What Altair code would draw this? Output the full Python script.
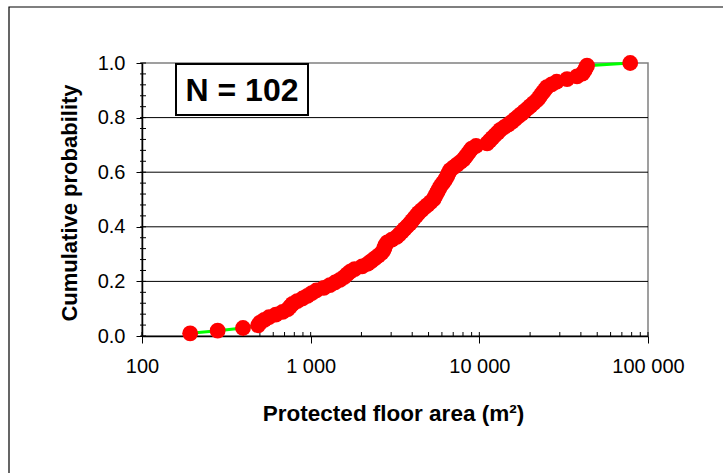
import altair as alt
import pandas as pd

# Protected floor area of each building in the sample (m²), sorted
areas = [193, 281, 397, 488, 501, 531, 566, 621, 682, 732,
         755, 781, 832, 895, 956, 1015, 1080, 1196, 1300, 1394,
         1490, 1578, 1642, 1713, 1822, 2018, 2181, 2288, 2400, 2518,
         2630, 2703, 2740, 2773, 2846, 3030, 3232, 3358, 3479, 3605,
         3736, 3870, 3988, 4105, 4230, 4365, 4548, 4732, 4937, 5142,
         5343, 5446, 5551, 5658, 5768, 5888, 6050, 6218, 6356, 6469,
         6585, 6713, 7031, 7376, 7726, 8069, 8292, 8522, 8759, 9002,
         9560, 11124, 11527, 11945, 12375, 12840, 13300, 14030, 14820, 15590,
         16280, 16990, 17770, 18540, 19320, 20120, 20970, 21840, 22540, 23130,
         23770, 24460, 25140, 26840, 28740, 33130, 37930, 40830, 41900, 42720,
         43490, 78430]

x_major = [100, 1000, 10000, 100000]
x_minor = [200, 300, 400, 500, 600, 700, 800, 900,
           2000, 3000, 4000, 5000, 6000, 7000, 8000, 9000,
           20000, 30000, 40000, 50000, 60000, 70000, 80000, 90000]
y_major = [0.0, 0.2, 0.4, 0.6, 0.8, 1.0]
y_grid = [0.2, 0.4, 0.6, 0.8]
y_minor = [0.0, 0.04, 0.08, 0.12, 0.16, 0.2, 0.24, 0.28, 0.32, 0.36,
           0.4, 0.44, 0.48, 0.52, 0.56, 0.6, 0.64, 0.68, 0.72, 0.76,
           0.8, 0.84, 0.88, 0.92, 0.96, 1.0]

W, H = 506, 273
FONT = "Liberation Sans"

xscale = alt.Scale(type="log", domain=[100, 100000], nice=False)
yscale = alt.Scale(domain=[0, 1], nice=False, zero=False)

x_axis = alt.Axis(
    values=x_major,
    labelExpr="replace(format(datum.value, ','), regexp(',', 'g'), ' ')",
    labelFlush=False, labelOverlap=False,
    tickSize=7, tickWidth=1, tickColor="black",
    domainColor="black", domainWidth=1.5,
    labelFont=FONT, labelFontSize=20, labelColor="black", labelPadding=13,
    grid=False,
    title="Protected floor area (m²)", titleFont=FONT, titleFontSize=22.5,
    titleFontWeight="bold", titleColor="black",
    titleX=W / 2 - 2, titleY=84, titleAlign="center", titleBaseline="alphabetic",
)
y_axis = alt.Axis(
    values=y_major, format=".1f",
    tickSize=6, tickWidth=1, tickColor="black",
    domainColor="black", domainWidth=1.5,
    labelFont=FONT, labelFontSize=20, labelColor="black", labelPadding=11,
    grid=False,
    title="Cumulative probability", titleFont=FONT, titleFontSize=22,
    titleFontWeight="bold", titleColor="black", titleAngle=270,
    titleX=-66, titleY=H / 2 + 3, titleAlign="center", titleBaseline="alphabetic",
)

one = pd.DataFrame({"k": [0]})

# outer frame of the figure
frame = alt.Chart(one).mark_rect(filled=False, stroke="black", strokeWidth=1.2).encode(
    x=alt.value(-133), x2=alt.value(W + 120), y=alt.value(-56), y2=alt.value(H + 200)
)

grid = alt.Chart(pd.DataFrame({"g": y_grid})).mark_rule(color="black", strokeWidth=1).encode(
    y=alt.Y("g:Q", scale=yscale, axis=y_axis)
)

xticks = alt.Chart(pd.DataFrame({"t": x_minor + x_major})).mark_rule(
    color="black", strokeWidth=1).encode(
    x=alt.X("t:Q", scale=xscale, axis=x_axis), y=alt.value(H - 4), y2=alt.value(H)
)

yticks = alt.Chart(pd.DataFrame({"v": y_minor})).mark_rule(
    color="black", strokeWidth=1).encode(
    y=alt.Y("v:Q", scale=yscale, axis=y_axis), x=alt.value(-2), x2=alt.value(4)
)

base = alt.Chart(pd.DataFrame({"area": areas})).transform_window(
    p="cume_dist()", sort=[alt.SortField("area")]
)

line = base.mark_line(color="#00FF00", strokeWidth=3).encode(
    x=alt.X("area:Q", scale=xscale, axis=x_axis),
    y=alt.Y("p:Q", scale=yscale, axis=y_axis),
    order="area:Q",
)

points = base.mark_circle(color="#FF0000", opacity=1, size=250).encode(
    x=alt.X("area:Q", scale=xscale, axis=x_axis),
    y=alt.Y("p:Q", scale=yscale, axis=y_axis),
)

box = alt.Chart(one).mark_rect(fill="white", stroke="black", strokeWidth=2).encode(
    x=alt.value(34), x2=alt.value(166), y=alt.value(1), y2=alt.value(52)
)

label = alt.Chart(pd.DataFrame({"label": [f"N = {len(areas)}"]})).mark_text(
    font=FONT, fontSize=32, fontWeight="bold", align="center",
    baseline="alphabetic", color="black",
).encode(x=alt.value(100), y=alt.value(38), text="label:N")

chart = alt.layer(frame, grid, xticks, yticks, line, points, box, label).properties(
    width=W, height=H,
    autosize=alt.AutoSizeParams(type="none"),
    padding={"left": 142, "top": 63, "right": 75, "bottom": 137},
    background="white",
).configure_view(stroke="#808080", strokeWidth=1.5)

chart.save("out.html", embed_options={"renderer": "svg", "actions": False})
